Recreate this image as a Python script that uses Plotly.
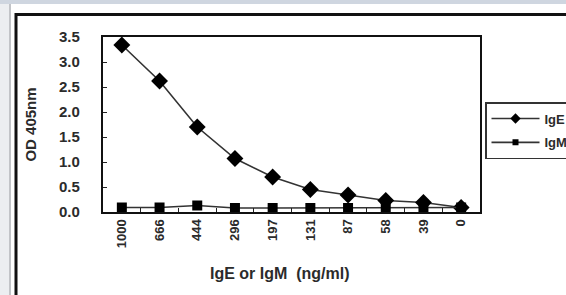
import plotly.graph_objects as go

concentrations = ["1000", "666", "444", "296", "197", "131", "87", "58", "39", "0"]
ige_od = [3.34, 2.62, 1.70, 1.07, 0.70, 0.45, 0.34, 0.23, 0.19, 0.09]
igm_od = [0.09, 0.09, 0.13, 0.08, 0.08, 0.08, 0.08, 0.08, 0.09, 0.09]
series_names = ["IgE", "IgM"]
y_ticks = [0.0, 0.5, 1.0, 1.5, 2.0, 2.5, 3.0, 3.5]
y_labels = ["0.0", "0.5", "1.0", "1.5", "2.0", "2.5", "3.0", "3.5"]
x_title = "IgE or IgM  (ng/ml)"
y_title = "OD 405nm"

W, H = 566, 295
L, R, T, B = 103, 480, 37, 212  # plot area pixels


def px(x):
    return (x - L) / (R - L)


def py(y):
    return (B - y) / (B - T)


FONT = "Liberation Sans, Arial, sans-serif"
INK = "#2b2b2b"
LINE = "#333333"

fig = go.Figure()
for name, vals, sym, size, lsize in [
    (series_names[0], ige_od, "diamond", 13, 8),
    (series_names[1], igm_od, "square", 10, 6),
]:
    fig.add_trace(go.Scatter(
        x=concentrations, y=vals, name=name, mode="lines+markers", showlegend=False,
        legendgroup=name,
        line=dict(color=LINE, width=1.6),
        marker=dict(symbol=sym, size=size, color="#000000"),
    ))
    # legend entry with smaller marker, as in the original legend
    fig.add_trace(go.Scatter(
        x=[None], y=[None], name=name, mode="lines+markers", legendgroup=name,
        line=dict(color=LINE, width=1.6),
        marker=dict(symbol=sym, size=lsize, color="#000000"),
    ))

shapes = [
    # page backgrounds
    dict(type="rect", xref="paper", yref="paper", x0=px(-5), x1=px(W + 5), y0=py(4), y1=py(-5),
         fillcolor="#cfd6e0", line=dict(width=0), layer="below"),
    dict(type="rect", xref="paper", yref="paper", x0=px(-5), x1=px(9), y0=py(H + 5), y1=py(4),
         fillcolor="#eceef1", line=dict(width=0), layer="below"),
    dict(type="line", xref="paper", yref="paper", x0=px(10), x1=px(10), y0=py(H + 5), y1=py(4),
         line=dict(color="#c2c4c8", width=2), layer="below"),
    # chart frame
    dict(type="rect", xref="paper", yref="paper", x0=px(16), x1=px(W + 20), y0=py(H + 20), y1=py(14.5),
         fillcolor="#ffffff", line=dict(color="#111111", width=3), layer="below"),
]

fig.update_layout(
    width=W, height=H,
    margin=dict(l=L, r=W - R, t=T, b=H - B, autoexpand=False),
    paper_bgcolor="#ffffff", plot_bgcolor="rgba(0,0,0,0)",
    font=dict(family=FONT, color=INK),
    shapes=shapes,
    showlegend=True,
    legend=dict(
        x=px(485), y=py(102), xanchor="left", yanchor="top",
        bordercolor="#333333", borderwidth=1.5, bgcolor="#ffffff",
        font=dict(size=13, family=FONT, color=INK, weight="bold"),
        itemwidth=48, tracegroupgap=4,
    ),
    annotations=[
        dict(text=x_title, xref="paper", yref="paper", x=px(280), y=py(273),
             xanchor="center", yanchor="middle", showarrow=False,
             font=dict(size=16, family=FONT, color=INK, weight="bold")),
    ],
    xaxis=dict(
        type="category", categoryorder="array", categoryarray=concentrations,
        range=[-0.5, len(concentrations) - 0.5],
        tickangle=-90, tickfont=dict(size=13, family=FONT, color=INK, weight="bold"),
        ticks="inside", ticklen=4, tickcolor="#222", tickson="boundaries",
        showline=True, linecolor="#111", linewidth=2.2, mirror=True,
        showgrid=False, zeroline=False,
    ),
    yaxis=dict(
        range=[0, 3.5], tickvals=y_ticks, ticktext=y_labels,
        tickfont=dict(size=15, family=FONT, color=INK, weight="bold"),
        ticks="inside", ticklen=4, tickcolor="#222", ticklabelstandoff=18,
        showline=True, linecolor="#111", linewidth=2.2, mirror=True,
        showgrid=False, zeroline=False,
        title=dict(text=y_title, font=dict(size=15, family=FONT, color=INK, weight="bold"), standoff=19),
    ),
)

fig.write_html("out.html", config={"displayModeBar": False},
               post_script="document.body.style.margin='0';")
